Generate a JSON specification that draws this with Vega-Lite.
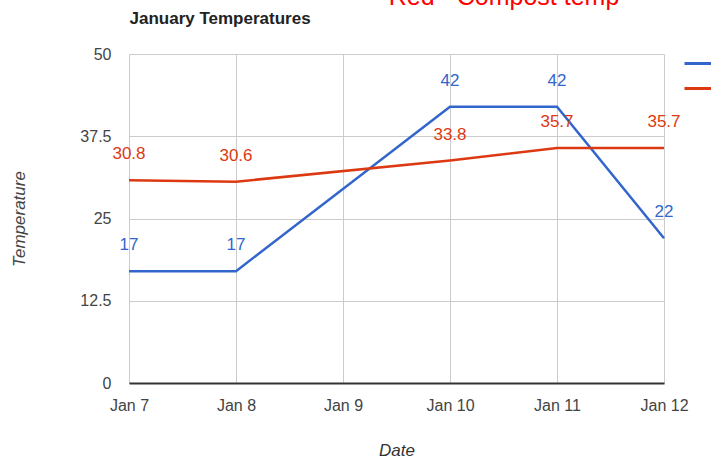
{
  "$schema": "https://vega.github.io/schema/vega-lite/v6.json",
  "autosize": {"type": "none"},
  "width": 535,
  "height": 329,
  "padding": {"left": 129, "top": 54, "right": 47, "bottom": 81},
  "background": "white",
  "config": {
    "view": {"stroke": null},
    "font": "Liberation Sans"
  },
  "data": {
    "values": [
      {"day": 7, "series": "Air temp", "temp": 17},
      {"day": 8, "series": "Air temp", "temp": 17},
      {"day": 10, "series": "Air temp", "temp": 42},
      {"day": 11, "series": "Air temp", "temp": 42},
      {"day": 12, "series": "Air temp", "temp": 22},
      {"day": 7, "series": "Compost temp", "temp": 30.8},
      {"day": 8, "series": "Compost temp", "temp": 30.6},
      {"day": 10, "series": "Compost temp", "temp": 33.8},
      {"day": 11, "series": "Compost temp", "temp": 35.7},
      {"day": 12, "series": "Compost temp", "temp": 35.7}
    ]
  },
  "layer": [
    {
      "mark": {"type": "line", "strokeWidth": 2.5},
      "encoding": {
        "x": {
          "field": "day",
          "type": "quantitative",
          "scale": {"domain": [7, 12], "nice": false, "zero": false},
          "axis": {
            "orient": "bottom",
            "values": [7, 8, 9, 10, 11, 12],
            "labelExpr": "'Jan ' + datum.value",
            "grid": true,
            "gridColor": "#cccccc",
            "gridWidth": 1,
            "domainColor": "#333333",
            "domainWidth": 2,
            "ticks": false,
            "tickSize": 0,
            "labelPadding": 14,
            "labelFontSize": 16,
            "labelColor": "#444444",
            "labelFont": "Liberation Sans",
            "labelFlush": false,
            "title": "Date",
            "titleFont": "Liberation Sans",
            "titleFontSize": 17,
            "titleFontStyle": "italic",
            "titleFontWeight": "normal",
            "titleColor": "#333333",
            "titleX": 267.5,
            "titleY": 67,
            "titleBaseline": "middle"
          }
        },
        "y": {
          "field": "temp",
          "type": "quantitative",
          "scale": {"domain": [0, 50], "nice": false},
          "axis": {
            "orient": "left",
            "values": [0, 12.5, 25, 37.5, 50],
            "format": ".1~f",
            "grid": true,
            "gridColor": "#cccccc",
            "domain": false,
            "ticks": false,
            "tickSize": 0,
            "labelPadding": 18,
            "labelFontSize": 16,
            "labelColor": "#444444",
            "labelFont": "Liberation Sans",
            "title": "Temperature",
            "titleFont": "Liberation Sans",
            "titleFontSize": 17,
            "titleFontStyle": "italic",
            "titleFontWeight": "normal",
            "titleColor": "#444444",
            "titleX": -101,
            "titleY": 164.5
          }
        },
        "color": {
          "field": "series",
          "type": "nominal",
          "scale": {"domain": ["Air temp", "Compost temp"], "range": ["#3366cc", "#dc3912"]},
          "legend": {
            "orient": "none",
            "legendX": 554,
            "legendY": -7,
            "title": null,
            "symbolType": "stroke",
            "symbolSize": 900,
            "symbolStrokeWidth": 3,
            "rowPadding": -3,
            "padding": 0,
            "labelFontSize": 16,
            "labelColor": "#222222"
          }
        }
      }
    },
    {
      "mark": {"type": "text", "dy": -26, "baseline": "middle", "align": "center", "fontSize": 17, "font": "Liberation Sans"},
      "encoding": {
        "x": {
          "field": "day",
          "type": "quantitative",
          "axis": {
            "orient": "top",
            "labels": false,
            "ticks": false,
            "domain": false,
            "grid": false,
            "title": "January Temperatures",
            "titleFont": "Liberation Sans",
            "titleFontSize": 17,
            "titleFontWeight": "bold",
            "titleColor": "#222222",
            "titleX": 0,
            "titleY": -31,
            "titleAlign": "left",
            "titleBaseline": "alphabetic"
          }
        },
        "y": {
          "field": "temp",
          "type": "quantitative",
          "axis": {
            "orient": "right",
            "labels": false,
            "ticks": false,
            "domain": false,
            "grid": false,
            "title": "Red - Compost temp",
            "titleAngle": 0,
            "titleFont": "Liberation Sans",
            "titleFontSize": 25,
            "titleFontWeight": "normal",
            "titleColor": "#ff0000",
            "titleX": -160.5,
            "titleY": -50,
            "titleAlign": "center",
            "titleBaseline": "alphabetic"
          }
        },
        "text": {"field": "temp", "type": "quantitative", "format": "~g"},
        "color": {"field": "series", "type": "nominal"}
      }
    }
  ],
  "resolve": {"axis": {"x": "independent", "y": "independent"}}
}
